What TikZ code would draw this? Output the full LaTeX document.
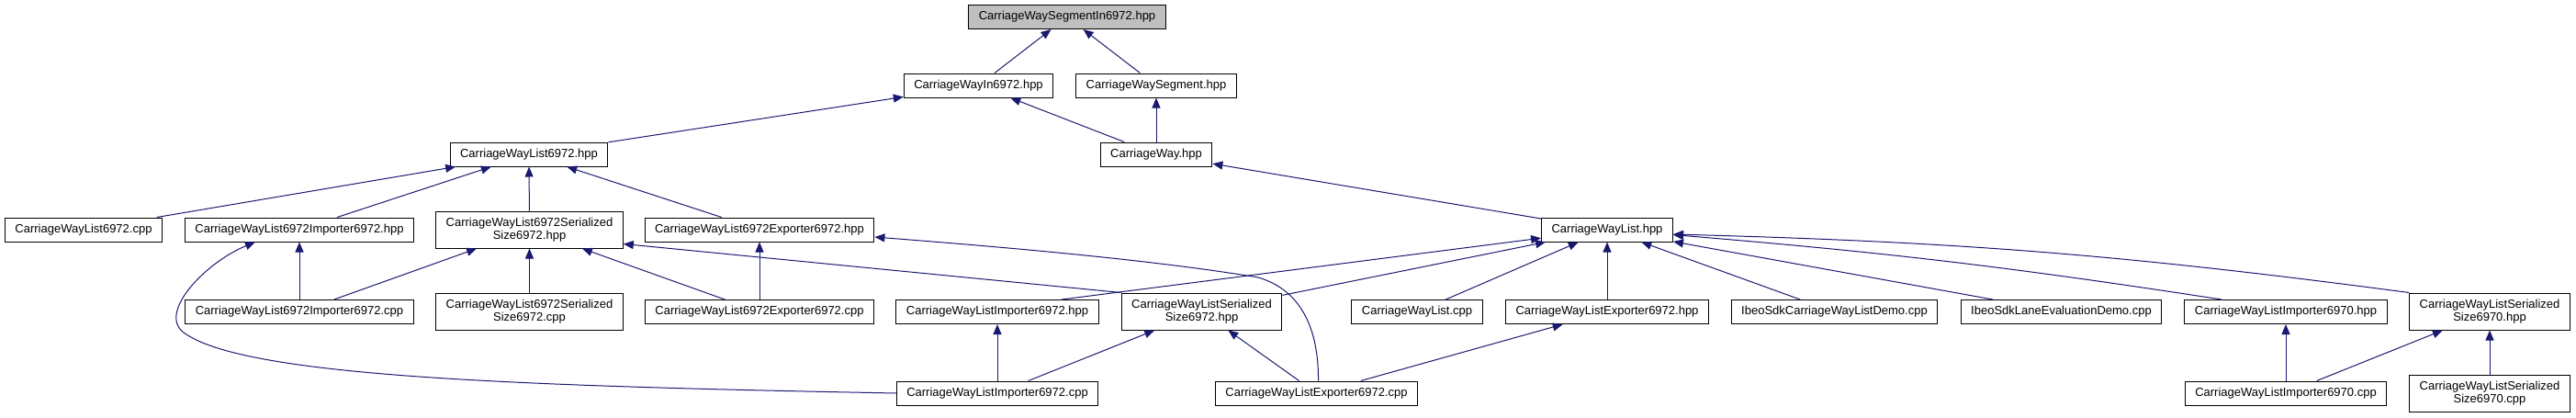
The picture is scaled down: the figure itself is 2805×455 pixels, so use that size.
\documentclass[tikz,border=0pt]{standalone}
\usepackage{fontspec}
\setmainfont{Liberation Sans}
\usepackage{tikz}
\usetikzlibrary{arrows.meta}
\definecolor{edgeblue}{HTML}{191970}
\definecolor{focusgrey}{HTML}{BFBFBF}

\begin{document}
\begin{tikzpicture}[x=1pt,y=-1pt,
 filebox/.style={draw=black,fill=white,line width=1pt,align=center,
 font=\fontsize{13}{14.5}\selectfont,inner xsep=11pt,inner ysep=0pt,minimum height=26pt},
 twoline/.style={filebox,minimum height=40pt},
 dep/.style={-{Triangle[length=11pt,width=9pt]},draw=edgeblue,line width=1pt}]
\useasboundingbox (0,0) rectangle (2805,455);
% ranks from top to bottom
\node[filebox,fill=focusgrey] (segin) at (1162,18.5) {CarriageWaySegmentIn6972.hpp};
\node[filebox] (wayin) at (1065.5,93) {CarriageWayIn6972.hpp};
\node[filebox] (seg) at (1259,93) {CarriageWaySegment.hpp};
\node[filebox] (list72) at (576,168) {CarriageWayList6972.hpp};
\node[filebox] (way) at (1259,168) {CarriageWay.hpp};
\node[filebox] (list72cpp) at (91,250) {CarriageWayList6972.cpp};
\node[filebox] (imp72h) at (326,250) {CarriageWayList6972Importer6972.hpp};
\node[twoline] (ser72h) at (576.5,250) {CarriageWayList6972Serialized\\Size6972.hpp};
\node[filebox] (exp72h) at (827,250) {CarriageWayList6972Exporter6972.hpp};
\node[filebox] (listh) at (1750,250) {CarriageWayList.hpp};
\node[filebox] (imp72cpp) at (326,339.5) {CarriageWayList6972Importer6972.cpp};
\node[twoline] (ser72cpp) at (576.5,339) {CarriageWayList6972Serialized\\Size6972.cpp};
\node[filebox] (exp72cpp) at (827,339.5) {CarriageWayList6972Exporter6972.cpp};
\node[filebox] (limp72h) at (1086,339.5) {CarriageWayListImporter6972.hpp};
\node[twoline] (lser72h) at (1308.5,339) {CarriageWayListSerialized\\Size6972.hpp};
\node[filebox] (listcpp) at (1543,339.5) {CarriageWayList.cpp};
\node[filebox] (lexp72h) at (1750,339.5) {CarriageWayListExporter6972.hpp};
\node[filebox] (sdkdemo) at (1997.5,339.5) {IbeoSdkCarriageWayListDemo.cpp};
\node[filebox] (lanedemo) at (2244.5,339.5) {IbeoSdkLaneEvaluationDemo.cpp};
\node[filebox] (limp70h) at (2489,339.5) {CarriageWayListImporter6970.hpp};
\node[twoline] (lser70h) at (2711,339) {CarriageWayListSerialized\\Size6970.hpp};
\node[filebox] (limp72cpp) at (1086,428) {CarriageWayListImporter6972.cpp};
\node[filebox] (lexp72cpp) at (1433.5,428) {CarriageWayListExporter6972.cpp};
\node[filebox] (limp70cpp) at (2489,428) {CarriageWayListImporter6970.cpp};
\node[twoline] (lser70cpp) at (2711,428) {CarriageWayListSerialized\\Size6970.cpp};
% include edges, tip at the included file
\draw[dep] (wayin)--(segin);
\draw[dep] (seg)--(segin);
\draw[dep] (list72)--(wayin);
\draw[dep] (way)--(wayin);
\draw[dep] (way)--(seg);
\draw[dep] (listh)--(way);
\draw[dep] (list72cpp)--(list72);
\draw[dep] (imp72h)--(list72);
\draw[dep] (ser72h)--(list72);
\draw[dep] (exp72h)--(list72);
\draw[dep] (imp72cpp)--(imp72h);
\draw[dep] (imp72cpp)--(ser72h);
\draw[dep] (ser72cpp)--(ser72h);
\draw[dep] (exp72cpp)--(ser72h);
\draw[dep] (exp72cpp)--(exp72h);
\draw[dep] (lser72h.north west)--([yshift=5pt]ser72h.south east);
\draw[dep] ([xshift=2pt]lexp72cpp.north) .. controls (1436,360) and (1418,316) .. (1370,302)
 .. controls (1250,282) and (1080,268) .. ([yshift=-8pt]exp72h.east);
\draw[dep] (limp72cpp.west) .. controls (560,420) and (265,410) .. (200,362)
 .. controls (171,340) and (225,285) .. ([xshift=-48pt]imp72h.south);
\draw[dep] ([xshift=70pt]limp72h.north)--(listh);
\draw[dep] (lser72h)--(listh);
\draw[dep] (listcpp)--(listh);
\draw[dep] (lexp72h)--(listh);
\draw[dep] (sdkdemo)--(listh);
\draw[dep] (lanedemo)--(listh);
\draw[dep] ([xshift=-70pt]limp70h.north) to[bend right=2] (listh);
\draw[dep] (lser70h.north west) to[bend right=3] ([yshift=-5pt]listh.east);
\draw[dep] (limp72cpp)--(limp72h);
\draw[dep] (limp72cpp)--(lser72h);
\draw[dep] (lexp72cpp)--(lser72h);
\draw[dep] (lexp72cpp)--(lexp72h);
\draw[dep] (limp70cpp)--(limp70h);
\draw[dep] (limp70cpp)--(lser70h);
\draw[dep] (lser70cpp)--(lser70h);
\end{tikzpicture}
\end{document}
